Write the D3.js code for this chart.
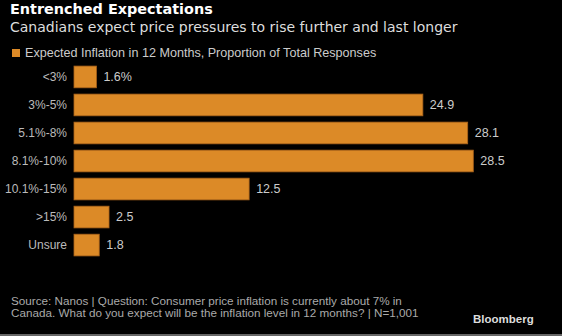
<!DOCTYPE html>
<html>
<head>
<style>
  body { margin: 0; background: #000; }
  svg { display: block; font-family: "Liberation Sans", Arial, sans-serif; }
</style>
</head>
<body>
<svg width="562" height="336"></svg>
<script src="https://cdnjs.cloudflare.com/ajax/libs/d3/7.8.5/d3.min.js"></script>
<script>
// data
var categories = ["<3%", "3%-5%", "5.1%-8%", "8.1%-10%", "10.1%-15%", ">15%", "Unsure"];
var values = [1.6, 24.9, 28.1, 28.5, 12.5, 2.5, 1.8];
var valueLabels = ["1.6%", "24.9", "28.1", "28.5", "12.5", "2.5", "1.8"];

var svg = d3.select("svg");
var width = +svg.attr("width");
var height = +svg.attr("height");

svg.append("rect").attr("width", width).attr("height", height).attr("fill", "#000");

// titles
svg.append("text").attr("x", 10).attr("y", 14)
  .attr("fill", "#fff").style("font-family", "DejaVu Sans, sans-serif")
  .style("font-size", "14.4px").style("font-weight", "bold")
  .text("Entrenched Expectations");
svg.append("text").attr("x", 10).attr("y", 31.5)
  .attr("fill", "#ddd").style("font-family", "DejaVu Sans, sans-serif")
  .style("font-size", "14px")
  .text("Canadians expect price pressures to rise further and last longer");

// legend
svg.append("rect").attr("x", 12).attr("y", 49).attr("width", 8).attr("height", 8).attr("fill", "#dc8a27");
svg.append("text").attr("x", 25).attr("y", 57)
  .attr("fill", "#ccc").style("font-size", "12.6px")
  .text("Expected Inflation in 12 Months, Proportion of Total Responses");

var x = d3.scaleLinear().domain([0, 28.5]).range([74, 473.3]);
var y = d3.scaleBand().domain(categories).range([63, 259]).paddingInner(0.225).paddingOuter(0.11);

var rows = categories.map(function(c, i) { return { cat: c, v: values[i], lab: valueLabels[i] }; });

svg.append("g").selectAll("rect").data(rows).enter().append("rect")
  .attr("x", x(0))
  .attr("y", function(d) { return y(d.cat); })
  .attr("width", function(d) { return x(d.v) - x(0); })
  .attr("height", y.bandwidth())
  .attr("fill", "#dc8a27")
  .attr("stroke", "#a8621a").attr("stroke-width", 0.8);

// category labels
var yAxis = svg.append("g").attr("transform", "translate(" + (x(0) - 7) + ",0)")
  .call(d3.axisLeft(y).tickSize(0).tickPadding(0));
yAxis.select(".domain").remove();
yAxis.selectAll("text").attr("fill", "#bbb").style("font-size", "12px")
  .style("font-family", "Liberation Sans, Arial, sans-serif");

// value labels
svg.append("g").selectAll("text").data(rows).enter().append("text")
  .attr("x", function(d) { return x(d.v) + 7; })
  .attr("y", function(d) { return y(d.cat) + y.bandwidth() / 2; })
  .attr("dy", "0.35em")
  .attr("fill", "#ccc").style("font-size", "12.5px")
  .text(function(d) { return d.lab; });

// footer
svg.append("text").attr("x", 11).attr("y", 305)
  .attr("fill", "#aaa").style("font-size", "11.7px")
  .text("Source: Nanos | Question: Consumer price inflation is currently about 7% in");
svg.append("text").attr("x", 11).attr("y", 317)
  .attr("fill", "#aaa").style("font-size", "11.7px")
  .text("Canada. What do you expect will be the inflation level in 12 months? | N=1,001");
svg.append("text").attr("x", 473).attr("y", 323)
  .attr("fill", "#ddd").style("font-size", "11.5px").style("font-weight", "bold")
  .text("Bloomberg");
svg.append("line").attr("x1", 0).attr("x2", width).attr("y1", 335).attr("y2", 335)
  .attr("stroke", "#888").attr("stroke-width", 1.5);
</script>
</body>
</html>
